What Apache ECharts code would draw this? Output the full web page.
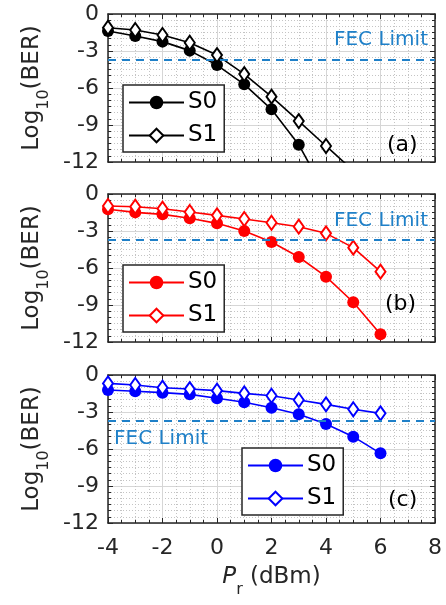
<!DOCTYPE html>
<html>
<head>
<meta charset="utf-8">
<script src="https://cdn.jsdelivr.net/npm/echarts@6/dist/echarts.min.js"></script>
<style>html,body{margin:0;padding:0;background:#fff;}#c{width:446px;height:605px;}</style>
</head>
<body>
<div id="c"></div>
<script>
// ---- data ----
const xTicks = [-4, -2, 0, 2, 4, 6, 8];
const yTicks = [0, -3, -6, -9, -12];
const fecLimit = -3.7;

const aS0x = [-4, -3, -2, -1, 0, 1, 2, 3, 4];
const aS0y = [-1.38, -1.78, -2.24, -2.97, -4.14, -5.7, -7.73, -10.6, -14.6];
const aS1x = [-4, -3, -2, -1, 0, 1, 2, 3, 4, 5];
const aS1y = [-1.11, -1.3, -1.7, -2.33, -3.33, -4.87, -6.7, -8.68, -10.7, -12.7];

const bS0x = [-4, -3, -2, -1, 0, 1, 2, 3, 4, 5, 6];
const bS0y = [-1.24, -1.49, -1.65, -1.97, -2.38, -3.0, -3.89, -5.11, -6.7, -8.78, -11.38];
const bS1x = [-4, -3, -2, -1, 0, 1, 2, 3, 4, 5, 6];
const bS1y = [-0.97, -1.03, -1.19, -1.46, -1.73, -2.03, -2.33, -2.65, -3.19, -4.35, -6.3];

const cS0x = [-4, -3, -2, -1, 0, 1, 2, 3, 4, 5, 6];
const cS0y = [-1.22, -1.32, -1.43, -1.57, -1.89, -2.21, -2.65, -3.19, -3.97, -5.0, -6.35];
const cS1x = [-4, -3, -2, -1, 0, 1, 2, 3, 4, 5, 6];
const cS1y = [-0.68, -0.81, -1.03, -1.14, -1.27, -1.49, -1.68, -2.03, -2.38, -2.78, -3.11];

const panelLabels = ['(a)', '(b)', '(c)'];
const seriesNames = ['S0', 'S1'];
const panelColors = ['#000000', '#ff0000', '#0000ff'];

// ---- chart ----
const FONT = 'DejaVu Sans';
const AXC = '#262626';
const gridTops = [14, 194, 375];
const GL = 108, GW = 327, GH = 148;

function pairs(xs, ys) { return xs.map((x, i) => [x, ys[i]]); }
const panelData = [
  [pairs(aS0x, aS0y), pairs(aS1x, aS1y)],
  [pairs(bS0x, bS0y), pairs(bS1x, bS1y)],
  [pairs(cS0x, cS0y), pairs(cS1x, cS1y)]
];

const grid = gridTops.map(t => ({ left: GL, top: t, width: GW, height: GH }));
const xAxis = [], yAxis = [], series = [], legend = [];

gridTops.forEach((t, i) => {
  const common = {
    gridIndex: i, type: 'value',
    axisLine: { show: true, onZero: false, lineStyle: { color: AXC, width: 1.5 } },
    axisTick: { show: true, inside: true, length: 5, lineStyle: { color: AXC, width: 1 } },
    minorTick: { show: true, length: 3, lineStyle: { color: AXC, width: 1 } }
  };
  xAxis.push(Object.assign({}, common, {
    position: 'bottom', min: xTicks[0], max: xTicks[xTicks.length - 1], interval: 2,
    minorTick: Object.assign({}, common.minorTick, { splitNumber: 4 }),
    splitLine: { show: true, lineStyle: { color: '#d6d6d6', width: 1 } },
    minorSplitLine: { show: true, lineStyle: { color: '#c4c4c4', width: 1, type: [1, 2] } },
    axisLabel: { show: i === 2, fontSize: 22, fontFamily: FONT, color: AXC, margin: 14 },
    name: i === 2 ? '{i|P}{s|r}{n| (dBm)}' : '',
    nameLocation: 'middle', nameGap: 43,
    nameTextStyle: {
      rich: {
        i: { fontSize: 23, fontStyle: 'italic', fontFamily: FONT, color: AXC, lineHeight: 32, verticalAlign: 'top' },
        s: { fontSize: 16, fontFamily: FONT, color: AXC, lineHeight: 16, verticalAlign: 'bottom' },
        n: { fontSize: 23, fontFamily: FONT, color: AXC, lineHeight: 32, verticalAlign: 'top' }
      }
    }
  }));
  xAxis.push(Object.assign({}, common, {
    position: 'top', min: xTicks[0], max: xTicks[xTicks.length - 1], interval: 2,
    minorTick: Object.assign({}, common.minorTick, { splitNumber: 4 }),
    splitLine: { show: false }, axisLabel: { show: false }
  }));
  yAxis.push(Object.assign({}, common, {
    position: 'left', min: yTicks[yTicks.length - 1], max: yTicks[0], interval: 3,
    minorTick: Object.assign({}, common.minorTick, { splitNumber: 6 }),
    splitLine: { show: true, lineStyle: { color: '#d6d6d6', width: 1 } },
    minorSplitLine: { show: true, lineStyle: { color: '#c4c4c4', width: 1, type: [1, 2] } },
    axisLabel: { fontSize: 22, fontFamily: FONT, color: AXC, margin: 9 },
    name: '{a|Log}{s|10}{a|(BER)}', nameLocation: 'middle', nameGap: 55, nameRotate: 90,
    nameTextStyle: {
      rich: {
        a: { fontSize: 23, fontFamily: FONT, color: AXC, lineHeight: 32, verticalAlign: 'top' },
        s: { fontSize: 16, fontFamily: FONT, color: AXC, lineHeight: 16, verticalAlign: 'bottom' }
      }
    }
  }));
  yAxis.push(Object.assign({}, common, {
    position: 'right', min: yTicks[yTicks.length - 1], max: yTicks[0], interval: 3,
    minorTick: Object.assign({}, common.minorTick, { splitNumber: 6 }),
    splitLine: { show: false }, axisLabel: { show: false }
  }));

  const col = panelColors[i];
  const xi = i * 2, yi = i * 2;
  series.push({
    name: 'p' + i + '-' + seriesNames[0], type: 'line', xAxisIndex: xi, yAxisIndex: yi,
    data: panelData[i][0], symbol: 'circle', symbolSize: 12, clip: true,
    lineStyle: { color: col, width: 1.6 }, itemStyle: { color: col },
    emphasis: { disabled: true }, z: 3,
    markLine: {
      silent: true, symbol: 'none', label: { show: false },
      lineStyle: { color: '#1f80c8', width: 2, type: [8, 6] },
      data: [{ yAxis: fecLimit }]
    }
  });
  series.push({
    name: 'p' + i + '-' + seriesNames[1], type: 'line', xAxisIndex: xi, yAxisIndex: yi,
    data: panelData[i][1], symbol: 'emptyDiamond', symbolSize: [10, 14], clip: true,
    lineStyle: { color: col, width: 1.6 }, itemStyle: { color: col, borderWidth: 1.5 },
    emphasis: { disabled: true }, z: 3
  });
  const legPos = [[123, 85], [123, 265], [242, 448]][i];
  legend.push({
    data: ['p' + i + '-' + seriesNames[0], 'p' + i + '-' + seriesNames[1]],
    formatter: n => n.split('-')[1],
    orient: 'vertical', left: legPos[0], top: legPos[1],
    itemWidth: 55, itemHeight: 17, itemGap: 10,
    padding: [6, 7, 5, 5],
    backgroundColor: '#fff', borderColor: AXC, borderWidth: 1.5,
    selectedMode: false,
    textStyle: { fontSize: 23, fontFamily: FONT, color: '#000', padding: [0, 0, 0, -1] },
    z: 10
  });
});

const graphic = [
  { type: 'text', right: 446 - 428, top: 30, style: { text: 'FEC Limit', font: '20px "DejaVu Sans"', fill: '#1f80c8' }, z: 20 },
  { type: 'text', right: 446 - 428, top: 211, style: { text: 'FEC Limit', font: '20px "DejaVu Sans"', fill: '#1f80c8' }, z: 20 },
  { type: 'text', left: 114, top: 429, style: { text: 'FEC Limit', font: '20px "DejaVu Sans"', fill: '#1f80c8' }, z: 20 },
  { type: 'text', left: 387, top: 134, style: { text: panelLabels[0], font: '22px "DejaVu Sans"', fill: '#000' }, z: 20 },
  { type: 'text', left: 385, top: 293, style: { text: panelLabels[1], font: '22px "DejaVu Sans"', fill: '#000' }, z: 20 },
  { type: 'text', left: 388, top: 489, style: { text: panelLabels[2], font: '22px "DejaVu Sans"', fill: '#000' }, z: 20 }
];

const chart = echarts.init(document.getElementById('c'), null, { renderer: 'canvas' });
chart.setOption({
  animation: false,
  backgroundColor: '#fff',
  grid, xAxis, yAxis, series, legend, graphic
});
</script>
</body>
</html>
